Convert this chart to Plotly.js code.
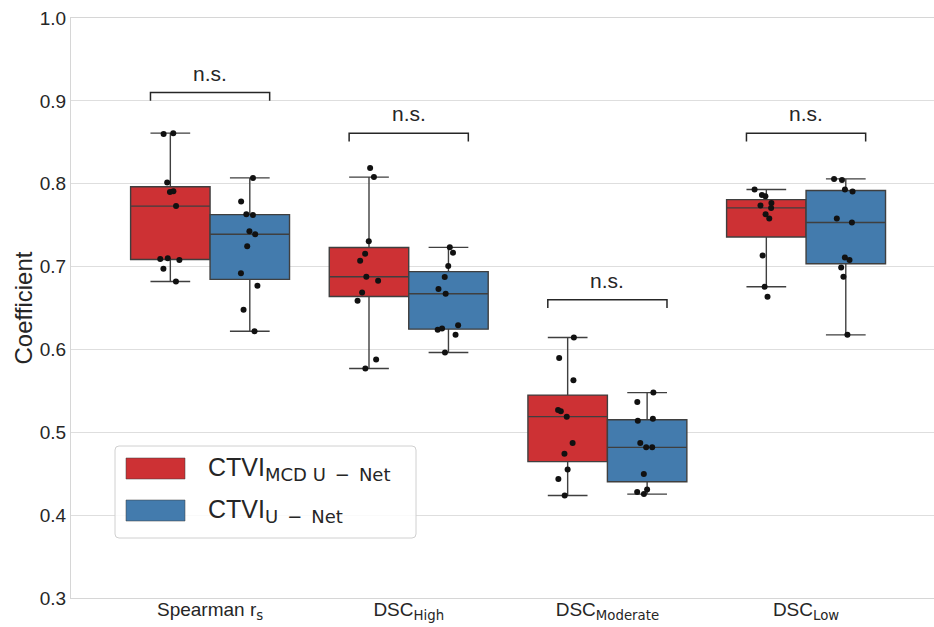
<!DOCTYPE html>
<html>
<head>
<meta charset="utf-8">
<script src="https://cdn.plot.ly/plotly-3.0.1.min.js"></script>
<style>html,body{margin:0;padding:0;background:#fff;}#chart{width:934px;height:627px;}</style>
</head>
<body>
<div id="chart"></div>
<script>
// ---- data ----
const categoryLabels = [
  'Spearman r<sub><span style="font-family:DejaVu Sans">s</span></sub>',
  'DSC<sub><span style="font-family:DejaVu Sans">High</span></sub>',
  'DSC<sub><span style="font-family:DejaVu Sans">Moderate</span></sub>',
  'DSC<sub><span style="font-family:DejaVu Sans">Low</span></sub>'
];
const seriesNames = [
  'CTVI<sub><span style="font-family:DejaVu Sans;font-size:18px">MCD U\u2002−\u2002Net</span></sub>',
  'CTVI<sub><span style="font-family:DejaVu Sans;font-size:18px">U\u2002−\u2002Net</span></sub>'
];
const seriesColors = ['#cd3134', '#437bad'];

const mcdSpearman  = [0.860, 0.861, 0.8015, 0.791, 0.790, 0.773, 0.710, 0.708, 0.709, 0.6975, 0.682];
const unetSpearman = [0.807, 0.7785, 0.763, 0.7623, 0.7426, 0.739, 0.7244, 0.692, 0.677, 0.648, 0.622];
const mcdHigh      = [0.819, 0.808, 0.7305, 0.7156, 0.7071, 0.6878, 0.683, 0.6688, 0.6588, 0.5878, 0.577];
const unetHigh     = [0.7232, 0.7168, 0.7006, 0.6873, 0.6728, 0.6672, 0.6293, 0.6253, 0.6237, 0.6176, 0.5963];
const mcdModerate  = [0.6144, 0.5898, 0.5628, 0.5253, 0.527, 0.5189, 0.4871, 0.4741, 0.4552, 0.4435, 0.4237];
const unetModerate = [0.5479, 0.5366, 0.5164, 0.514, 0.4871, 0.4818, 0.4818, 0.4496, 0.431, 0.4278, 0.4254];
const mcdLow       = [0.793, 0.7849, 0.7865, 0.7768, 0.7736, 0.7708, 0.7631, 0.7579, 0.7135, 0.6757, 0.6636];
const unetLow      = [0.8058, 0.8046, 0.793, 0.7906, 0.7579, 0.7531, 0.7108, 0.7079, 0.699, 0.6878, 0.6176];

const significanceText = ['n.s.', 'n.s.', 'n.s.', 'n.s.'];
const bracketTop = [0.910, 0.861, 0.660, 0.861];

// ---- build traces ----
const groups = [
  [mcdSpearman, mcdHigh, mcdModerate, mcdLow],
  [unetSpearman, unetHigh, unetModerate, unetLow]
];
const FONT = 'Liberation Sans, Arial, sans-serif';
const TXT = '#262626';

const traces = groups.map((g, s) => {
  const x = [], y = [];
  g.forEach((vals, ci) => vals.forEach(v => { x.push(ci); y.push(v); }));
  return {
    type: 'box', x: x, y: y, name: 'series' + s,
    fillcolor: seriesColors[s],
    line: {color: '#3f3f3f', width: 1.4},
    marker: {color: '#111111', size: 6, opacity: 1},
    boxpoints: 'all', jitter: 0.3, pointpos: 0,
    whiskerwidth: 0.5,
    quartilemethod: 'inclusive',
    hoverinfo: 'skip',
    showlegend: false
  };
});

// ---- significance brackets ----
const shapes = [];
const annotations = [];
const leg = 0.01, half = 0.3;
bracketTop.forEach((yt, i) => {
  shapes.push({
    type: 'path', xref: 'x', yref: 'y', layer: 'above',
    path: `M ${i - half},${yt - leg} L ${i - half},${yt} L ${i + half},${yt} L ${i + half},${yt - leg}`,
    line: {color: '#262626', width: 1.5}
  });
  annotations.push({
    x: i, y: yt, xref: 'x', yref: 'y', text: significanceText[i],
    showarrow: false, xanchor: 'center', yanchor: 'bottom', yshift: 6,
    font: {family: FONT, size: 21, color: TXT}
  });
});

// ---- manual legend (paper coords) ----
const px = v => (v - 71) / 863;
const py = v => (598 - v) / 580;
const fx0 = px(115), fx1 = px(416), fy0 = py(538), fy1 = py(446);
const rx = 4 / 863, ry = 4 / 580;
shapes.push({
  type: 'path', xref: 'paper', yref: 'paper', layer: 'above',
  path: `M ${fx0 + rx},${fy0} L ${fx1 - rx},${fy0} Q ${fx1},${fy0} ${fx1},${fy0 + ry} L ${fx1},${fy1 - ry} Q ${fx1},${fy1} ${fx1 - rx},${fy1} L ${fx0 + rx},${fy1} Q ${fx0},${fy1} ${fx0},${fy1 - ry} L ${fx0},${fy0 + ry} Q ${fx0},${fy0} ${fx0 + rx},${fy0} Z`,
  fillcolor: 'rgba(255,255,255,0.85)', line: {color: '#d0d0d0', width: 1}
});
const patchY = [[458, 479], [500, 521]];
const textY = [469, 511];
seriesNames.forEach((nm, s) => {
  shapes.push({
    type: 'rect', xref: 'paper', yref: 'paper', layer: 'above',
    x0: px(126), x1: px(185), y0: py(patchY[s][1]), y1: py(patchY[s][0]),
    fillcolor: seriesColors[s], line: {color: 'rgba(60,60,60,0.5)', width: 1}
  });
  annotations.push({
    x: px(206), y: py(textY[s]), xref: 'paper', yref: 'paper', text: nm,
    showarrow: false, xanchor: 'left', yanchor: 'middle',
    font: {family: FONT, size: 25, color: TXT}
  });
});

const layout = {
  width: 934, height: 627,
  margin: {l: 71, r: 0, t: 18, b: 29, pad: 0},
  paper_bgcolor: '#ffffff', plot_bgcolor: '#ffffff',
  font: {family: FONT, color: TXT, size: 19},
  boxmode: 'group', boxgap: 0.2, boxgroupgap: 0,
  showlegend: false,
  xaxis: {
    range: [-0.70, 3.644], tickmode: 'array', tickvals: [0, 1, 2, 3], ticktext: categoryLabels,
    showgrid: false, zeroline: false, showline: true, mirror: true,
    linecolor: '#d6d6d6', linewidth: 1, ticks: '', ticklabelstandoff: -6,
    tickfont: {family: FONT, size: 19, color: TXT}
  },
  yaxis: {
    range: [0.3, 1.0], tick0: 0.3, dtick: 0.1, tickformat: '.1f',
    showgrid: true, gridcolor: '#dedede', gridwidth: 1,
    zeroline: false, showline: true, linecolor: '#d6d6d6', linewidth: 1, ticks: '',
    tickfont: {family: FONT, size: 19, color: TXT},
    title: {text: 'Coefficient', font: {family: FONT, size: 24, color: TXT}, standoff: 0}
  },
  shapes: shapes,
  annotations: annotations
};

Plotly.newPlot('chart', traces, layout, {displayModeBar: false, staticPlot: true});
</script>
</body>
</html>
